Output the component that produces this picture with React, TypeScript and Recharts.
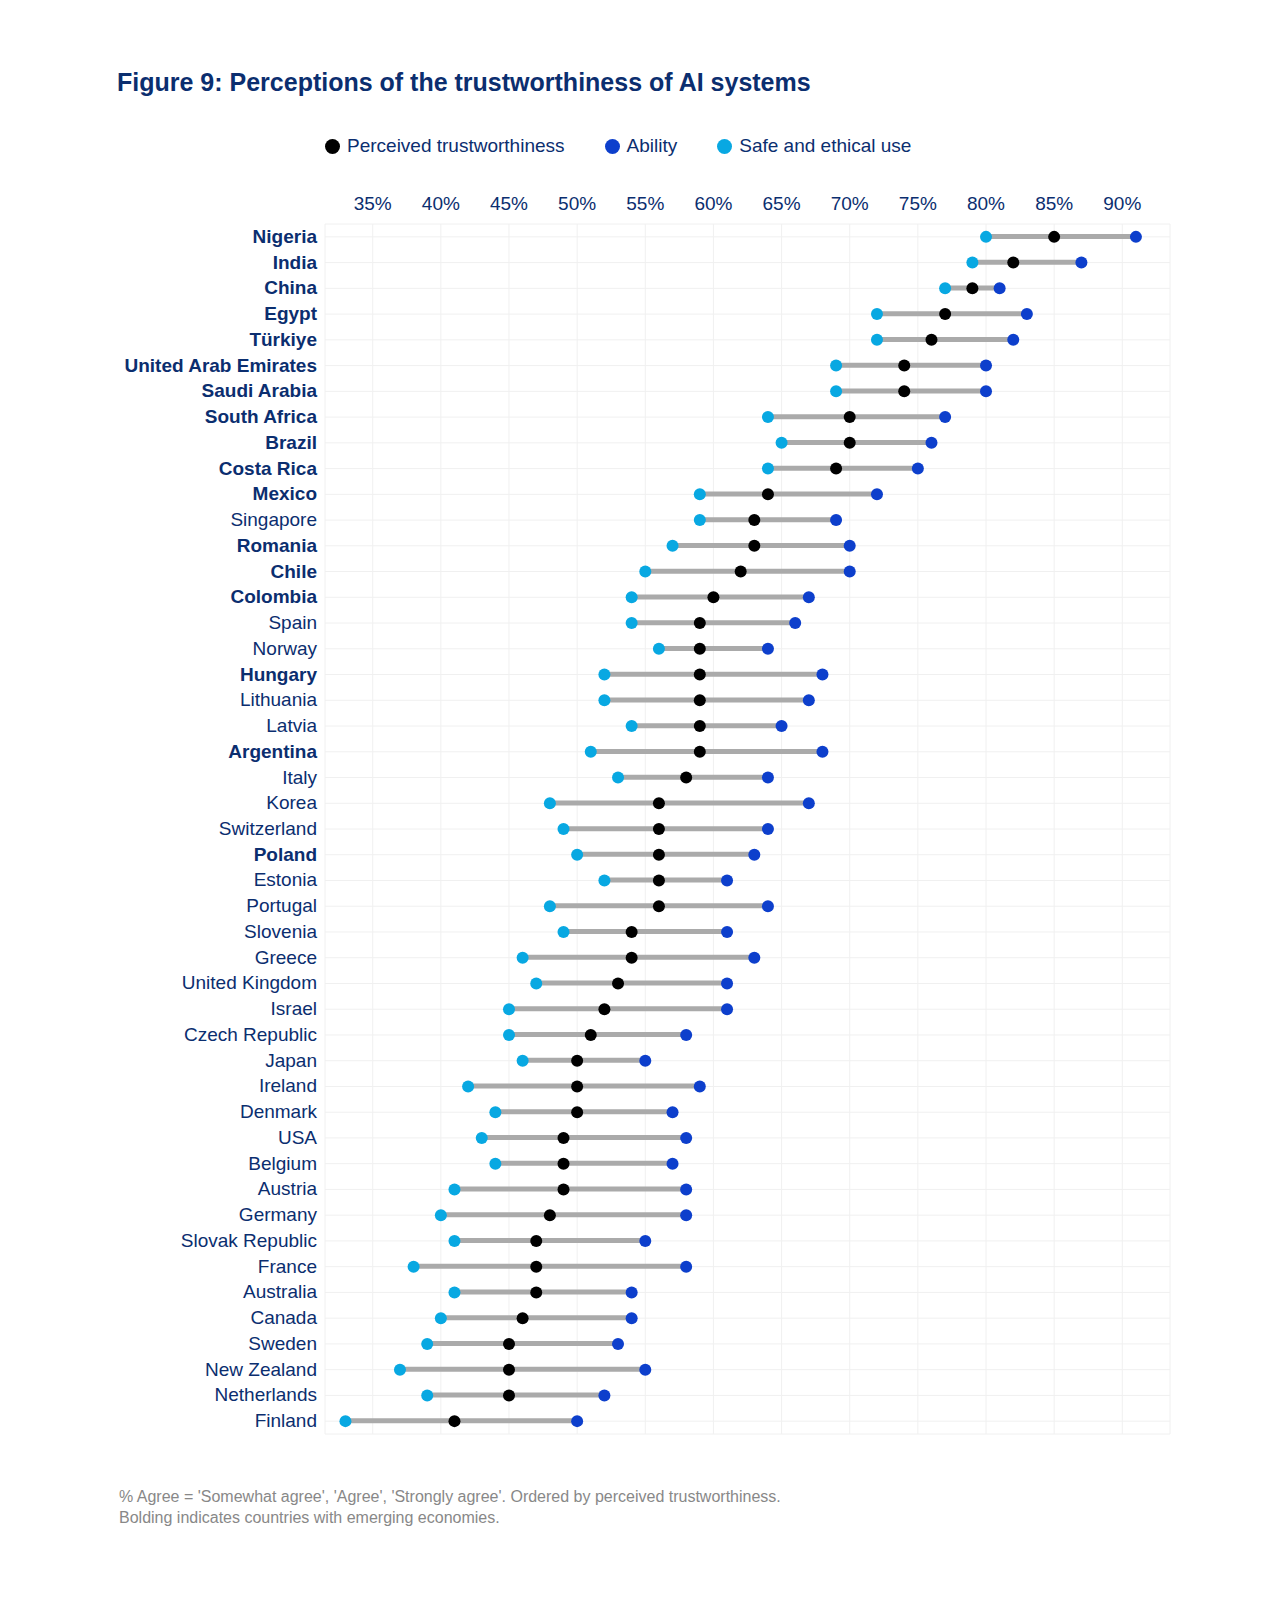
import React from 'react';
import { ComposedChart, Bar, Line, XAxis, YAxis, CartesianGrid } from 'recharts';

const countries = ['Nigeria', 'India', 'China', 'Egypt', 'Türkiye', 'United Arab Emirates', 'Saudi Arabia', 'South Africa', 'Brazil', 'Costa Rica', 'Mexico', 'Singapore', 'Romania', 'Chile', 'Colombia', 'Spain', 'Norway', 'Hungary', 'Lithuania', 'Latvia', 'Argentina', 'Italy', 'Korea', 'Switzerland', 'Poland', 'Estonia', 'Portugal', 'Slovenia', 'Greece', 'United Kingdom', 'Israel', 'Czech Republic', 'Japan', 'Ireland', 'Denmark', 'USA', 'Belgium', 'Austria', 'Germany', 'Slovak Republic', 'France', 'Australia', 'Canada', 'Sweden', 'New Zealand', 'Netherlands', 'Finland'];
const safeEthical = [80, 79, 77, 72, 72, 69, 69, 64, 65, 64, 59, 59, 57, 55, 54, 54, 56, 52, 52, 54, 51, 53, 48, 49, 50, 52, 48, 49, 46, 47, 45, 45, 46, 42, 44, 43, 44, 41, 40, 41, 38, 41, 40, 39, 37, 39, 33];
const trust = [85, 82, 79, 77, 76, 74, 74, 70, 70, 69, 64, 63, 63, 62, 60, 59, 59, 59, 59, 59, 59, 58, 56, 56, 56, 56, 56, 54, 54, 53, 52, 51, 50, 50, 50, 49, 49, 49, 48, 47, 47, 47, 46, 45, 45, 45, 41];
const ability = [91, 87, 81, 83, 82, 80, 80, 77, 76, 75, 72, 69, 70, 70, 67, 66, 64, 68, 67, 65, 68, 64, 67, 64, 63, 61, 64, 61, 63, 61, 61, 58, 55, 59, 57, 58, 57, 58, 58, 55, 58, 54, 54, 53, 55, 52, 50];
const emerging = ['Nigeria', 'India', 'China', 'Egypt', 'Türkiye', 'United Arab Emirates', 'Saudi Arabia', 'South Africa', 'Brazil', 'Costa Rica', 'Mexico', 'Romania', 'Chile', 'Colombia', 'Hungary', 'Argentina', 'Poland'];
const xTicks = [35, 40, 45, 50, 55, 60, 65, 70, 75, 80, 85, 90];

const NAVY = '#0b2e6f';
const C_TRUST = '#000000';
const C_ABILITY = '#0d3fcc';
const C_SAFE = '#08a8e2';

const data = countries.map((c, i) => ({
  country: c,
  range: [Math.min(safeEthical[i], ability[i]), Math.max(safeEthical[i], ability[i])],
  safe: safeEthical[i],
  trust: trust[i],
  ability: ability[i],
}));

const CountryTick = ({ x, y, payload }: any) => (
  <text x={x} y={y} dy={6} textAnchor="end" fontSize={19}
    fill={NAVY} fontWeight={emerging.includes(payload.value) ? 700 : 400}>
    {payload.value}
  </text>
);

const LegendDot = ({ color, label }: { color: string; label: string }) => (
  <span style={{ display: 'inline-flex', alignItems: 'center', marginRight: 40 }}>
    <span style={{ width: 15, height: 15, borderRadius: '50%', background: color, marginRight: 7, display: 'inline-block' }} />
    {label}
  </span>
);

export default function App() {
  return (
    <div style={{ position: 'absolute', left: 0, top: 0, width: 1288, height: 1598, background: '#fff', fontFamily: '"Liberation Sans", Arial, sans-serif' }}>
      <div style={{ position: 'absolute', left: 117, top: 68, fontSize: 25, fontWeight: 700, color: NAVY }}>
        Figure 9: Perceptions of the trustworthiness of AI systems
      </div>
      <div style={{ position: 'absolute', left: 325, top: 135, fontSize: 19, color: NAVY, display: 'flex' }}>
        <LegendDot color={C_TRUST} label="Perceived trustworthiness" />
        <LegendDot color={C_ABILITY} label="Ability" />
        <LegendDot color={C_SAFE} label="Safe and ethical use" />
      </div>
      <div style={{ position: 'absolute', left: 0, top: 0 }}>
        <ComposedChart width={1288} height={1450} data={data} layout="vertical"
          margin={{ top: 194, right: 118, bottom: 16, left: 0 }} barCategoryGap={0}>
          <CartesianGrid stroke="#f0f0f0" />
          <XAxis type="number" orientation="top" domain={[31.5, 93.5]} ticks={xTicks}
            tickFormatter={(v) => `${v}%`} axisLine={false} tickLine={false} tickSize={0} tickMargin={14}
            height={30} tick={{ fill: NAVY, fontSize: 19 }} />
          <YAxis type="category" dataKey="country" width={325} axisLine={false} tickLine={false}
            tickSize={0} tickMargin={8} interval={0} tick={<CountryTick />} />
          <Bar dataKey="range" fill="#aaaaaa" barSize={5} isAnimationActive={false} />
          <Line dataKey="safe" stroke="none" dot={{ r: 6, fill: C_SAFE, stroke: 'none' }} activeDot={false} isAnimationActive={false} />
          <Line dataKey="ability" stroke="none" dot={{ r: 6, fill: C_ABILITY, stroke: 'none' }} activeDot={false} isAnimationActive={false} />
          <Line dataKey="trust" stroke="none" dot={{ r: 6, fill: C_TRUST, stroke: 'none' }} activeDot={false} isAnimationActive={false} />
        </ComposedChart>
      </div>
      <div style={{ position: 'absolute', left: 119, top: 1486, fontSize: 16, color: '#888', lineHeight: '21px' }}>
        % Agree = 'Somewhat agree', 'Agree', 'Strongly agree'. Ordered by perceived trustworthiness.<br />
        Bolding indicates countries with emerging economies.
      </div>
    </div>
  );
}
